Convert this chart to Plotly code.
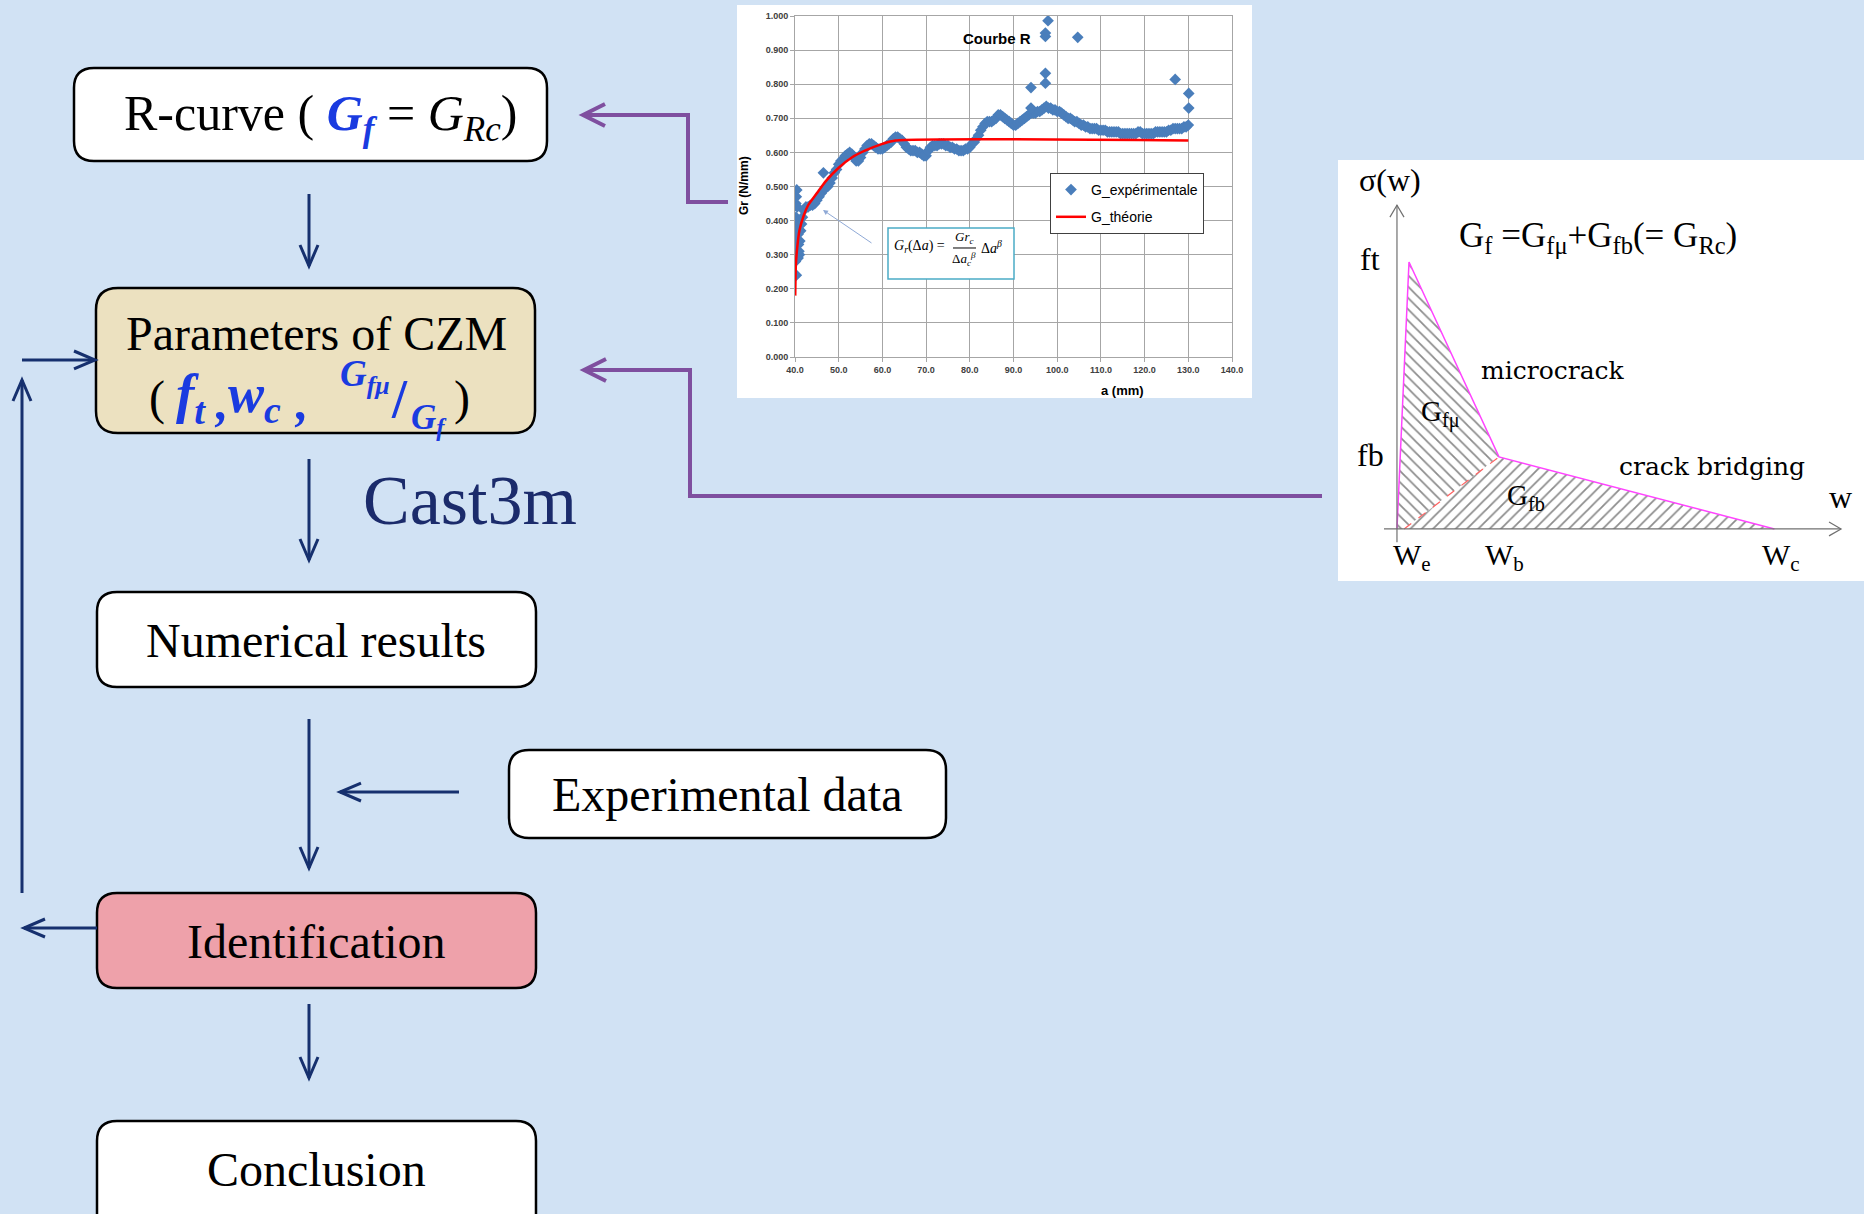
import plotly.graph_objects as go

W, H = 1864, 1214
BG = '#d1e2f4'
NAVY = '#16306e'
PURPLE = '#7f4f9f'
BLUE_MATH = '#1a3be0'

# ---------------- R-curve (Courbe R) data ----------------
exp_points = [
    (40.0, 0.29), (40.0, 0.32), (40.1, 0.34), (40.1, 0.38), (40.2, 0.41), (40.2, 0.45),
    (40.3, 0.47), (40.4, 0.49), (40.5, 0.44), (40.6, 0.40), (40.7, 0.36), (40.8, 0.33),
    (40.9, 0.31), (41.0, 0.30), (41.1, 0.34), (41.3, 0.37), (41.5, 0.39), (41.7, 0.41),
    (40.1, 0.28), (40.3, 0.24), (40.5, 0.30), (40.7, 0.29),
    (42.0, 0.43), (42.5, 0.44), (43.0, 0.44), (43.5, 0.445), (44.0, 0.445), (44.5, 0.45),
    (45.0, 0.46), (45.5, 0.47), (46.0, 0.48), (46.5, 0.49), (47.0, 0.495), (47.5, 0.50),
    (48.0, 0.51), (48.5, 0.525), (49.0, 0.54), (49.5, 0.55), (50.0, 0.565), (50.5, 0.575),
    (51.0, 0.58), (51.5, 0.59), (52.0, 0.595), (52.5, 0.60), (53.0, 0.595), (53.5, 0.585),
    (54.0, 0.575), (54.5, 0.575), (55.0, 0.585), (55.5, 0.60), (56.0, 0.61), (56.5, 0.62),
    (57.0, 0.625), (57.5, 0.625), (58.0, 0.62), (58.5, 0.615), (59.0, 0.61), (59.5, 0.61),
    (60.0, 0.61), (60.5, 0.615), (61.0, 0.62), (61.5, 0.625), (62.0, 0.63), (62.5, 0.64),
    (63.0, 0.645), (63.5, 0.645), (64.0, 0.64), (64.5, 0.635), (65.0, 0.625), (65.5, 0.615),
    (66.0, 0.61), (66.5, 0.605), (67.0, 0.605), (67.5, 0.605), (68.0, 0.60), (68.5, 0.60),
    (69.0, 0.595), (69.5, 0.59), (70.0, 0.59), (70.5, 0.605), (71.0, 0.615), (71.5, 0.62),
    (72.0, 0.62), (72.5, 0.62), (73.0, 0.625), (73.5, 0.625), (74.0, 0.625), (74.5, 0.62),
    (75.0, 0.62), (75.5, 0.615), (76.0, 0.615), (76.5, 0.61), (77.0, 0.61), (77.5, 0.605),
    (78.0, 0.605), (78.5, 0.605), (79.0, 0.61), (79.5, 0.61), (80.0, 0.615), (80.5, 0.625),
    (81.0, 0.63), (81.5, 0.64), (82.0, 0.65), (82.5, 0.665), (83.0, 0.675), (83.5, 0.685),
    (84.0, 0.69), (84.5, 0.69), (85.0, 0.69), (85.5, 0.695), (86.0, 0.70), (86.5, 0.71),
    (87.0, 0.71), (87.5, 0.705), (88.0, 0.70), (88.5, 0.695), (89.0, 0.69), (89.5, 0.685),
    (90.0, 0.68), (90.5, 0.68), (91.0, 0.685), (91.5, 0.69), (92.0, 0.695), (92.5, 0.70),
    (93.0, 0.705), (93.5, 0.71), (94.0, 0.715), (94.5, 0.715), (95.0, 0.715), (95.5, 0.72),
    (96.0, 0.72), (96.5, 0.725), (97.0, 0.73), (97.5, 0.735), (98.0, 0.73), (98.5, 0.73),
    (99.0, 0.725), (99.5, 0.725), (100.0, 0.72), (100.5, 0.72), (101.0, 0.715), (101.5, 0.71),
    (102.0, 0.705), (102.5, 0.70), (103.0, 0.70), (103.5, 0.695), (104.0, 0.69), (104.5, 0.69),
    (105.0, 0.685), (105.5, 0.68), (106.0, 0.68), (106.5, 0.675), (107.0, 0.675), (107.5, 0.67),
    (108.0, 0.67), (108.5, 0.67), (109.0, 0.67), (109.5, 0.665), (110.0, 0.665), (110.5, 0.665),
    (111.0, 0.665), (111.5, 0.66), (112.0, 0.66), (112.5, 0.66), (113.0, 0.66), (113.5, 0.66),
    (114.0, 0.66), (114.5, 0.655), (115.0, 0.655), (115.5, 0.655), (116.0, 0.655), (116.5, 0.655),
    (117.0, 0.655), (117.5, 0.655), (118.0, 0.655), (118.5, 0.66), (119.0, 0.66), (119.5, 0.655),
    (120.0, 0.655), (120.5, 0.655), (121.0, 0.655), (121.5, 0.655), (122.0, 0.655), (122.5, 0.66),
    (123.0, 0.66), (123.5, 0.66), (124.0, 0.66), (124.5, 0.66), (125.0, 0.66), (125.5, 0.665),
    (126.0, 0.665), (126.5, 0.67), (127.0, 0.67), (127.5, 0.67), (128.0, 0.67), (128.5, 0.67),
    (129.0, 0.675), (129.5, 0.675), (130.0, 0.68),
]
outlier_a = [46.5, 94.0, 94.0, 97.3, 97.3, 97.3, 97.3, 97.9, 104.7, 127.0, 130.1, 130.1]
outlier_g = [0.54, 0.79, 0.73, 0.94, 0.95, 0.832, 0.803, 0.986, 0.9375, 0.814, 0.773, 0.73]

a_exp = [p[0] for p in exp_points] + outlier_a
g_exp = [p[1] for p in exp_points] + outlier_g

a_theory = [40.05, 40.2, 40.5, 41.0, 42.0, 43.0, 45.0, 47.0, 50.0, 53.0, 56.0, 60.0, 63.0, 130.0]
g_theory = [0.18, 0.27, 0.32, 0.37, 0.415, 0.445, 0.48, 0.515, 0.555, 0.585, 0.605, 0.625, 0.635, 0.635]

x_ticks = [40, 50, 60, 70, 80, 90, 100, 110, 120, 130, 140]
y_ticks = [0.0, 0.1, 0.2, 0.3, 0.4, 0.5, 0.6, 0.7, 0.8, 0.9, 1.0]

# ---------------- Cohesive zone law (bilinear) ----------------
czm_w = [0.0, 0.118, 1.0, 3.7]      # 0, peak, w_b, w_c
czm_sigma = [0.0, 1.0, 0.27, 0.0]   # 0, ft, fb, 0
w_split = 0.07                      # start of the dashed divider (w_e)

# ---------------- Flowchart labels ----------------
box_labels = ['Numerical results', 'Experimental data', 'Identification', 'Conclusion']


def px(x):
    return x / W


def py(y):
    return 1 - y / H


def P(x, y):
    return f"{px(x):.5f},{py(y):.5f}"


fig = go.Figure()

# R-curve traces
fig.add_trace(go.Scatter(
    x=a_exp, y=g_exp, mode='markers', name='G_expérimentale',
    marker=dict(symbol='diamond', size=9, color='#4a7ebb'),
    xaxis='x2', yaxis='y2', legendgroup='a'))
fig.add_trace(go.Scatter(
    x=a_theory, y=g_theory, mode='lines', name='G_théorie',
    line=dict(color='#ff0000', width=2.5, shape='spline', smoothing=0.6),
    xaxis='x2', yaxis='y2', legendgroup='b'))

# CZM hatched areas
fig.add_trace(go.Scatter(
    x=[czm_w[0], czm_w[1], czm_w[2], w_split, czm_w[0]],
    y=[czm_sigma[0], czm_sigma[1], czm_sigma[2], 0, 0],
    fill='toself', mode='lines', line=dict(width=0, color='rgba(0,0,0,0)'),
    fillpattern=dict(shape='\\', fgcolor='#1a1a1a', bgcolor='white', size=8, solidity=0.22),
    xaxis='x3', yaxis='y3', showlegend=False, hoverinfo='skip'))
fig.add_trace(go.Scatter(
    x=[w_split, czm_w[2], czm_w[3], w_split],
    y=[0, czm_sigma[2], 0, 0],
    fill='toself', mode='lines', line=dict(width=0, color='rgba(0,0,0,0)'),
    fillpattern=dict(shape='/', fgcolor='#1a1a1a', bgcolor='white', size=8, solidity=0.22),
    xaxis='x3', yaxis='y3', showlegend=False, hoverinfo='skip'))
fig.add_trace(go.Scatter(
    x=czm_w, y=czm_sigma, mode='lines', line=dict(color='#ff44ff', width=1.5),
    xaxis='x3', yaxis='y3', showlegend=False, hoverinfo='skip'))
fig.add_trace(go.Scatter(
    x=[w_split, czm_w[2]], y=[0, czm_sigma[2]], mode='lines',
    line=dict(color='#ff6060', width=1.2, dash='dash'),
    xaxis='x3', yaxis='y3', showlegend=False, hoverinfo='skip'))

shapes = []


def rrect(x0, y0, x1, y1, r, fill, lw=2.5, layer='below'):
    d = (f"M {P(x0 + r, y0)} L {P(x1 - r, y0)} Q {P(x1, y0)} {P(x1, y0 + r)} "
         f"L {P(x1, y1 - r)} Q {P(x1, y1)} {P(x1 - r, y1)} L {P(x0 + r, y1)} "
         f"Q {P(x0, y1)} {P(x0, y1 - r)} L {P(x0, y0 + r)} Q {P(x0, y0)} {P(x0 + r, y0)} Z")
    shapes.append(dict(type='path', path=d, xref='paper', yref='paper',
                       fillcolor=fill, line=dict(color='black', width=lw), layer=layer))


def rect(x0, y0, x1, y1, fill, color=None, lw=0, layer='below'):
    shapes.append(dict(type='rect', x0=px(x0), x1=px(x1), y0=py(y1), y1=py(y0),
                       xref='paper', yref='paper', fillcolor=fill, layer=layer,
                       line=dict(color=color or fill, width=lw)))


def poly(points, color, lw, layer='above'):
    d = "M " + " L ".join(P(x, y) for x, y in points)
    shapes.append(dict(type='path', path=d, xref='paper', yref='paper',
                       line=dict(color=color, width=lw), layer=layer))


def arrow(points, color=NAVY, lw=3, hw=9, hl=21):
    poly(points, color, lw)
    (xa, ya), (xb, yb) = points[-2], points[-1]
    dx, dy = xb - xa, yb - ya
    n = (dx * dx + dy * dy) ** 0.5
    ux, uy = dx / n, dy / n
    bx, by = xb - ux * hl, yb - uy * hl
    poly([(bx - uy * hw, by + ux * hw), (xb, yb), (bx + uy * hw, by - ux * hw)], color, lw)


# white panels
rect(737, 5, 1252, 398, 'white')
rect(1338, 160, 1864, 581, 'white')

# flowchart boxes
rrect(74, 68, 547, 161, 20, 'white')
rrect(96, 288, 535, 433, 22, '#ece1c0')
rrect(97, 592, 536, 687, 20, 'white')
rrect(509, 750, 946, 838, 20, 'white')
rrect(97, 893, 536, 988, 20, '#eea1aa')
rrect(97, 1121, 536, 1240, 20, 'white')

# navy arrows
arrow([(309, 194), (309, 266)])
arrow([(309, 459), (309, 560)])
arrow([(309, 719), (309, 868)])
arrow([(459, 792), (340, 792)])
arrow([(309, 1004), (309, 1078)])
arrow([(97, 928), (24, 928)])
arrow([(22, 893), (22, 380)])
arrow([(22, 360), (95, 360)])

# purple connectors
arrow([(728, 202), (688, 202), (688, 115), (583, 115)], color=PURPLE, lw=4, hw=11, hl=22)
arrow([(1322, 496), (690, 496), (690, 370), (584, 370)], color=PURPLE, lw=4, hw=11, hl=22)

# formula box in the R-curve inset
shapes.append(dict(type='rect', x0=px(888), x1=px(1014), y0=py(279), y1=py(228),
                   xref='paper', yref='paper', fillcolor='white',
                   line=dict(color='#4bacc6', width=1.5), layer='above'))
poly([(953, 248), (976, 248)], 'black', 1)


# CZM axes (in CZM data units)
def czm_line(xs, ys, color='#707070', lw=1.2):
    d = "M " + " L ".join(f"{x},{y}" for x, y in zip(xs, ys))
    shapes.append(dict(type='path', path=d, xref='x3', yref='y3',
                       line=dict(color=color, width=lw), layer='above'))


czm_line([0, 0], [-0.05, 1.213])
czm_line([-0.069, 0, 0.069], [1.168, 1.213, 1.168])
czm_line([-0.127, 4.353], [0, 0])
czm_line([4.235, 4.353, 4.235], [0.026, 0, -0.026])

fig.update_layout(shapes=shapes)

annotations = []


def T(x, y, text, size, color='black', family='Liberation Serif', xanchor='center', **kw):
    annotations.append(dict(x=px(x), y=py(y), xref='paper', yref='paper', text=text,
                            showarrow=False, xanchor=xanchor, yanchor='middle',
                            font=dict(size=size, color=color, family=family), **kw))


def blue(s):
    return f"<span style='color:{BLUE_MATH}'><b><i>{s}</i></b></span>"


# flowchart texts
T(320, 117, f"R-curve ( {blue('G<sub>f</sub>')} = <i>G<sub>Rc</sub></i>)", 50)
T(316, 334, "Parameters of CZM", 48)
T(157, 398, "(", 48)
T(174, 398, blue("f<sub>t</sub>"), 55, xanchor='left')
T(221, 402, blue(","), 50)
T(226, 398, blue("w<sub>c</sub>"), 54, xanchor='left')
T(301, 402, blue(","), 50)
T(365, 376, blue("G<sub>fμ</sub>"), 37)
T(399, 399, f"<span style='color:{BLUE_MATH}'><b>/</b></span>", 54)
T(429, 419, blue("G<sub>f</sub>"), 35)
T(462, 398, ")", 48)
T(361, 500, "Cast3m", 70, color='#1b2b6b', xanchor='left')
T(316, 640, box_labels[0], 48)
T(727, 794, box_labels[1], 48)
T(316, 942, box_labels[2], 48)
T(316, 1169, box_labels[3], 48)

# R-curve inset texts
T(997, 38, "<b>Courbe R</b>", 15, family='Liberation Sans')
T(744, 186, "<b>Gr (N/mm)</b>", 12, family='Liberation Sans', textangle=-90)
T(1122, 390, "<b>a (mm)</b>", 13, family='Liberation Sans')
T(892, 247, "<i>G<sub>r</sub></i>(Δ<i>a</i>) =", 14, xanchor='left')
T(964, 237, "<i>Gr<sub>c</sub></i>", 13)
T(964, 259, "Δ<i>a<sub>c</sub><sup>β</sup></i>", 13)
T(979, 247, "Δ<i>a<sup>β</sup></i>", 14, xanchor='left')
annotations.append(dict(x=px(823), y=py(210), xref='paper', yref='paper', text='',
                        showarrow=True, ax=50, ay=34, arrowhead=2, arrowsize=1,
                        arrowwidth=1, arrowcolor='#8fa9d6'))

# CZM texts
T(1390, 180, "σ(w)", 32)
T(1370, 259, "ft", 32)
T(1370, 455, "fb", 32)
T(1840, 497, "w", 32)
T(1391, 557, "W<sub>e</sub>", 30, xanchor='left')
T(1483, 557, "W<sub>b</sub>", 30, xanchor='left')
T(1760, 557, "W<sub>c</sub>", 30, xanchor='left')
T(1598, 238, "G<sub>f</sub> =G<sub>fμ</sub>+G<sub>fb</sub>(= G<sub>Rc</sub>)", 35)
T(1553, 370, "microcrack", 25, family='DejaVu Serif')
T(1712, 466, "crack bridging", 25, family='DejaVu Serif')
T(1419, 414, "G<sub>fμ</sub>", 29, xanchor='left')
T(1505, 497, "G<sub>fb</sub>", 29, xanchor='left')

fig.update_layout(annotations=annotations)

tick_font = dict(family='Liberation Sans', size=9, color='#404040', weight='bold')
grid_c = '#a6a6a6'

fig.update_layout(
    width=W, height=H, autosize=False,
    margin=dict(l=0, r=0, t=0, b=0, pad=0, autoexpand=False),
    paper_bgcolor=BG, plot_bgcolor='rgba(0,0,0,0)',
    showlegend=True,
    legend=dict(x=px(1050), y=py(173), xanchor='left', yanchor='top',
                bgcolor='white', bordercolor='#404040', borderwidth=1,
                font=dict(family='Liberation Sans', size=14, color='black'),
                tracegroupgap=6, itemwidth=30),
    xaxis2=dict(domain=[px(795), px(1232)], range=[40, 140], anchor='y2',
                tickvals=x_ticks, ticktext=[f"{v:.1f}" for v in x_ticks],
                showgrid=True, gridcolor=grid_c, gridwidth=1,
                showline=True, linecolor=grid_c, mirror=True,
                ticks='outside', ticklen=4, tickcolor=grid_c, automargin=False,
                tickfont=tick_font, zeroline=False, fixedrange=True),
    yaxis2=dict(domain=[py(357), py(16)], range=[0, 1.0], anchor='x2',
                tickvals=y_ticks, ticktext=[f"{v:.3f}" for v in y_ticks],
                showgrid=True, gridcolor=grid_c, gridwidth=1,
                showline=True, linecolor=grid_c, mirror=True,
                ticks='outside', ticklen=4, tickcolor=grid_c, automargin=False,
                tickfont=tick_font, zeroline=False, fixedrange=True),
    xaxis3=dict(domain=[px(1338), 1.0], range=[-0.578, 4.578], anchor='y3',
                visible=False, fixedrange=True),
    yaxis3=dict(domain=[py(581), py(160)], range=[-0.195, 1.382], anchor='x3',
                visible=False, fixedrange=True),
    xaxis=dict(visible=False), yaxis=dict(visible=False),
)

fig.write_html(
    "out.html",
    config={'responsive': False, 'displayModeBar': False},
    post_script="document.body.style.margin='0';document.body.style.overflow='hidden';",
)
